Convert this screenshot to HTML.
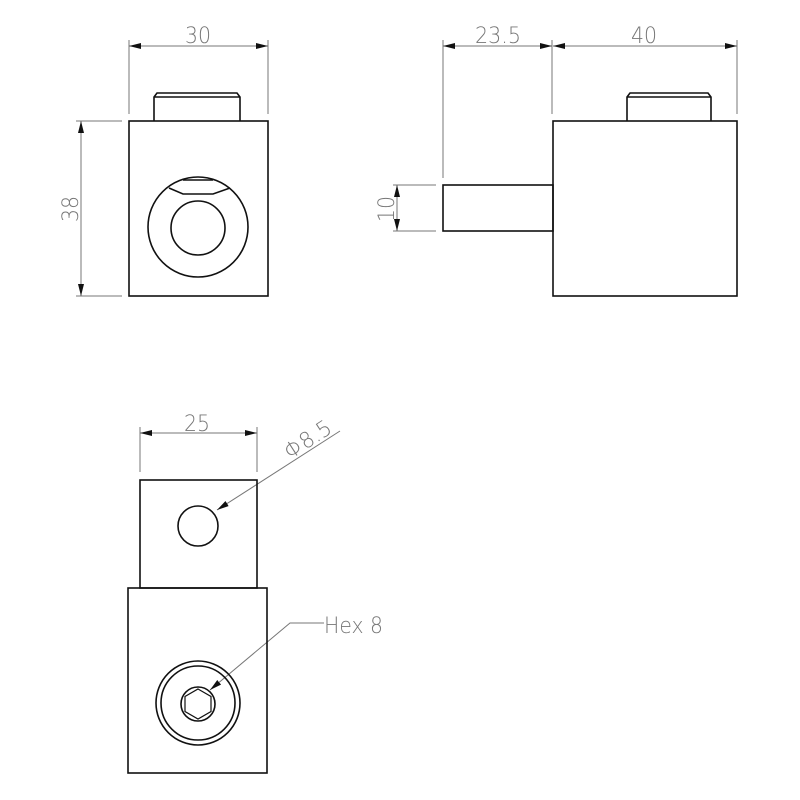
<!DOCTYPE html>
<html><head><meta charset="utf-8"><style>html,body{margin:0;padding:0;background:#fff}svg{display:block}</style></head>
<body>
<svg width="800" height="800" viewBox="0 0 800 800" xmlns="http://www.w3.org/2000/svg">
<defs>
<marker id="a" viewBox="0 0 12 6" refX="12" refY="3" markerWidth="12" markerHeight="6" orient="auto-start-reverse" markerUnits="userSpaceOnUse"><path d="M0,0 L12,3 L0,6 z" fill="#111"/></marker>
</defs>
<g font-family="'DejaVu Sans','Liberation Sans',sans-serif" font-size="22" fill="#777" font-weight="200">
<text x="198" y="43" text-anchor="middle" textLength="26" lengthAdjust="spacingAndGlyphs">30</text>
<text x="498" y="43" text-anchor="middle" textLength="46" lengthAdjust="spacingAndGlyphs">23.5</text>
<text x="644" y="43" text-anchor="middle" textLength="26" lengthAdjust="spacingAndGlyphs">40</text>
<text x="197" y="431" text-anchor="middle" textLength="26" lengthAdjust="spacingAndGlyphs">25</text>
<text transform="translate(78,209) rotate(-90)" text-anchor="middle" textLength="26" lengthAdjust="spacingAndGlyphs">38</text>
<text transform="translate(394,209) rotate(-90)" text-anchor="middle" textLength="26" lengthAdjust="spacingAndGlyphs">10</text>
<text transform="translate(290,460) rotate(-33)" textLength="52" lengthAdjust="spacingAndGlyphs">Φ8.5</text>
<text x="324" y="633" textLength="59" lengthAdjust="spacingAndGlyphs">Hex  8</text>
</g>
<g stroke="#777" stroke-width="1" fill="none">
<line x1="129" y1="40" x2="129" y2="114"/><line x1="268" y1="40" x2="268" y2="114"/>
<line x1="129" y1="46" x2="268" y2="46" marker-start="url(#a)" marker-end="url(#a)"/>
<line x1="76" y1="121" x2="122" y2="121"/><line x1="76" y1="296" x2="122" y2="296"/>
<line x1="81" y1="121" x2="81" y2="296" marker-start="url(#a)" marker-end="url(#a)"/>
<line x1="443" y1="40" x2="443" y2="178"/><line x1="552" y1="40" x2="552" y2="114"/><line x1="737" y1="40" x2="737" y2="114"/>
<line x1="443" y1="46" x2="552" y2="46" marker-start="url(#a)" marker-end="url(#a)"/>
<line x1="553" y1="46" x2="737" y2="46" marker-start="url(#a)" marker-end="url(#a)"/>
<line x1="393" y1="185" x2="436" y2="185"/><line x1="393" y1="231" x2="436" y2="231"/>
<line x1="397" y1="185" x2="397" y2="231" marker-start="url(#a)" marker-end="url(#a)"/>
<line x1="140" y1="427" x2="140" y2="472"/><line x1="257" y1="427" x2="257" y2="472"/>
<line x1="140" y1="433" x2="257" y2="433" marker-start="url(#a)" marker-end="url(#a)"/>
<line x1="340" y1="431" x2="217" y2="510" marker-end="url(#a)"/>
<polyline points="324,623 290,623 210,690" marker-end="url(#a)"/>
</g>
<g stroke="#111" stroke-width="1.6" fill="none">
<rect x="129" y="121" width="139" height="175"/>
<path d="M154,121 V97 L157,93 H237 L240,97 V121 M154,97 H240"/>
<circle cx="198" cy="227" r="50"/>
<circle cx="198" cy="228" r="27"/>
<path d="M169,188 L183,194 H213 L230,188 M183,180 H213"/>
<rect x="553" y="121" width="184" height="175"/>
<path d="M627,121 V97 L630,93 H708 L711,97 V121 M627,97 H711"/>
<rect x="443" y="185" width="110" height="46"/>
<rect x="140" y="480" width="117" height="108"/>
<rect x="128" y="588" width="139" height="185"/>
<circle cx="198" cy="526" r="20"/>
<circle cx="198" cy="703" r="42"/>
<circle cx="198" cy="703" r="37"/>
<circle cx="198" cy="704" r="17"/>
<polygon points="198,689 211,696.5 211,711.5 198,719 185,711.5 185,696.5" stroke-width="1.2"/>
</g>
</svg>
</body></html>
